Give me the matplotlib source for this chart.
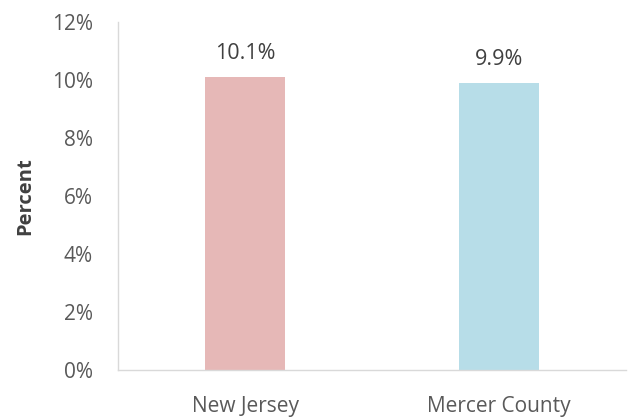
import matplotlib.pyplot as plt
from matplotlib.ticker import FuncFormatter

plt.rcParams['font.family'] = ['Open Sans', 'DejaVu Sans']

regions = ["New Jersey", "Mercer County"]
percent = [10.1, 9.9]
colors = ["#E6B8B7", "#B7DDE8"]

fig = plt.figure(figsize=(6.37, 4.17), dpi=100)
ax = fig.add_axes([118 / 637, 47 / 417, 508 / 637, 348 / 417])

x = range(len(regions))
bars = ax.bar(x, percent, width=0.315, color=colors)
for b, v in zip(bars, percent):
    ax.text(b.get_x() + b.get_width() / 2, v + 0.45, f"{v:.1f}%",
            ha="center", va="bottom", fontsize=15.5, color="#404040")

ax.set_xlim(-0.5, 1.5)
ax.set_ylim(0, 12)
ax.set_yticks(range(0, 13, 2))
ax.yaxis.set_major_formatter(FuncFormatter(lambda v, p: f"{v:.0f}%"))
ax.set_xticks(list(x))
ax.set_xticklabels(regions)
ax.tick_params(axis="both", length=0, labelsize=15, colors="#595959")
ax.tick_params(axis="x", pad=18.5)
ax.tick_params(axis="y", pad=18)
ax.set_ylabel("Percent", fontsize=14.5, fontweight="bold", color="#404040", labelpad=12)

for s in ["top", "right"]:
    ax.spines[s].set_visible(False)
for s in ["left", "bottom"]:
    ax.spines[s].set_color("#D9D9D9")
    ax.spines[s].set_linewidth(1)

fig.savefig("out.png", dpi=100)
